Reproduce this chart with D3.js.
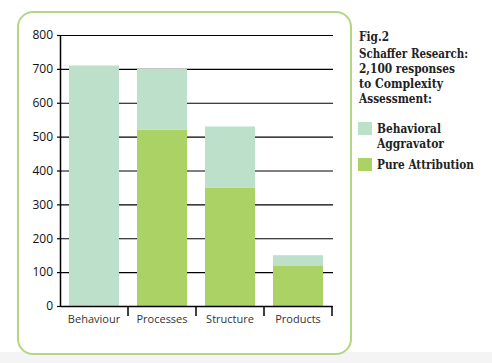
<!DOCTYPE html>
<html lang="en">
<head>
	<meta charset="utf-8">
	<title>Fig.2 Schaffer Research</title>
	<script src="https://cdn.jsdelivr.net/npm/d3@7"></script>
	<style>
		body { margin: 0; background: #fff; }
		svg { display: block; }
	</style>
</head>
<body>
	<div id="chart"></div>
	<script>
		// data
		const categories = ["Behaviour", "Processes", "Structure", "Products"];
		const pureAttribution = [0, 520, 350, 120];
		const behavioralAggravator = [710, 180, 180, 30];
		const yTicks = [0, 100, 200, 300, 400, 500, 600, 700, 800];
		const seriesNames = ["Behavioral Aggravator", "Pure Attribution"];
		const titleLines = ["Schaffer Research:", "2,100 responses", "to Complexity", "Assessment:"];

		const W = 492, H = 363;
		const colLight = "#bde0cb", colDark = "#abd264", borderCol = "#b5d585";

		const svg = d3.select("#chart").append("svg")
			.attr("width", W)
			.attr("height", H);

		// faint grey strip along the bottom
		svg.append("rect")
			.attr("x", 0).attr("y", 352)
			.attr("width", W).attr("height", H - 352)
			.attr("fill", "#f4f4f4");

		// rounded frame round the plot
		svg.append("rect")
			.attr("x", 18).attr("y", 12)
			.attr("width", 333).attr("height", 342)
			.attr("rx", 15).attr("ry", 15)
			.attr("fill", "#fff")
			.attr("stroke", borderCol)
			.attr("stroke-width", 2);

		const plot = { left: 60, right: 332, top: 35, bottom: 306 };

		const x = d3.scaleBand()
			.domain(categories)
			.range([plot.left, plot.right])
			.paddingInner(0.265)
			.paddingOuter(0.1325);

		const y = d3.scaleLinear()
			.domain([0, 800])
			.range([plot.bottom, plot.top]);

		// gridlines
		svg.append("g")
			.attr("transform", "translate(" + plot.left + ",0)")
			.call(d3.axisLeft(y).tickValues(yTicks).tickSize(-(plot.right - plot.left + 1)).tickFormat(""))
			.call(g => g.select(".domain").remove())
			.call(g => g.selectAll("line").attr("stroke", "#000").attr("stroke-width", 1.2));

		// stacked bars
		const rows = categories.map((c, i) => ({
			cat: c,
			pure: pureAttribution[i],
			aggr: behavioralAggravator[i]
		}));
		const stacked = d3.stack().keys(["pure", "aggr"])(rows);
		const colours = { pure: colDark, aggr: colLight };

		svg.append("g").selectAll("g")
			.data(stacked)
			.join("g")
			.attr("fill", d => colours[d.key])
			.selectAll("rect")
			.data(d => d)
			.join("rect")
			.attr("x", d => x(d.data.cat))
			.attr("width", x.bandwidth())
			.attr("y", d => y(d[1]))
			.attr("height", d => y(d[0]) - y(d[1]));

		// y axis
		const yAxis = svg.append("g")
			.attr("transform", "translate(" + plot.left + ",0)")
			.call(d3.axisLeft(y).tickValues(yTicks).tickSize(3).tickSizeOuter(0).tickPadding(4));
		yAxis.select(".domain").attr("stroke", "#000").attr("stroke-width", 1.5);
		yAxis.selectAll("line").attr("stroke", "#000").attr("stroke-width", 1.2);
		yAxis.selectAll("text")
			.attr("fill", "#111")
			.style("font-family", "'Open Sans', sans-serif")
			.style("font-size", "12px");

		// x axis: baseline, labels, and ticks between bands
		const xAxis = svg.append("g")
			.attr("transform", "translate(0," + plot.bottom + ")")
			.call(d3.axisBottom(x).tickSize(0).tickSizeOuter(0).tickPadding(9));
		xAxis.select(".domain").attr("stroke", "#000").attr("stroke-width", 1.5);
		xAxis.selectAll("text")
			.attr("fill", "#333")
			.style("font-family", "'Open Sans', sans-serif")
			.style("font-size", "11px");
		xAxis.selectAll(".sep")
			.data(categories)
			.join("line")
			.attr("class", "sep")
			.attr("x1", (d, i) => plot.left + (i + 1) * x.step())
			.attr("x2", (d, i) => plot.left + (i + 1) * x.step())
			.attr("y1", 0)
			.attr("y2", 10)
			.attr("stroke", "#000")
			.attr("stroke-width", 1.5);

		// title and legend on the right
		const side = svg.append("g")
			.style("font-family", "'DejaVu Serif Condensed', 'DejaVu Serif', serif")
			.style("font-stretch", "condensed")
			.style("font-weight", "bold")
			.attr("fill", "#222");

		side.append("text")
			.attr("x", 359).attr("y", 41)
			.style("font-size", "12.5px")
			.text("Fig.2");

		side.selectAll(".title")
			.data(titleLines)
			.join("text")
			.attr("class", "title")
			.attr("x", 359)
			.attr("y", (d, i) => 58 + i * 15)
			.style("font-size", "12.5px")
			.text(d => d);

		const legendRows = [
			{ lines: ["Behavioral", "Aggravator"], colour: colLight, y: 122 },
			{ lines: ["Pure Attribution"], colour: colDark, y: 158 }
		];
		const leg = side.selectAll(".leg")
			.data(legendRows)
			.join("g")
			.attr("class", "leg")
			.attr("transform", d => "translate(358," + d.y + ")");
		leg.append("rect")
			.attr("width", 14).attr("height", 13)
			.attr("fill", d => d.colour);
		leg.selectAll("text")
			.data(d => d.lines)
			.join("text")
			.attr("x", 19)
			.attr("y", (d, i) => 11 + i * 15)
			.style("font-size", "12.5px")
			.text(d => d);

		// fit the serif lines to the widths seen in the picture
		const targetW = { "Fig.2": 30, "Schaffer Research:": 109, "2,100 responses": 96, "to Complexity": 84, "Assessment:": 73, "Behavioral": 64, "Aggravator": 67, "Pure Attribution": 97 };
		side.selectAll("text").each(function() {
			const t = d3.select(this).text();
			const w = this.getComputedTextLength();
			if (targetW[t] && w > targetW[t]) {
				d3.select(this).attr("textLength", targetW[t]).attr("lengthAdjust", "spacingAndGlyphs");
			}
		});
	</script>
</body>
</html>
